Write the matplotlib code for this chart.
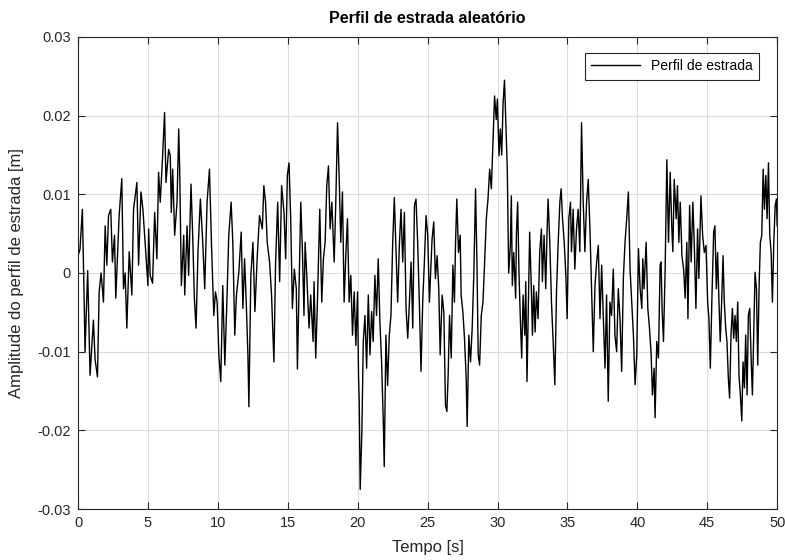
import matplotlib
matplotlib.use("Agg")
import matplotlib.pyplot as plt

plt.rcParams['font.family'] = ['Liberation Sans', 'DejaVu Sans']

t = [0.00, 0.14, 0.31, 0.45, 0.50, 0.69, 0.86, 1.10, 1.22, 1.39, 1.51, 1.65, 1.82, 1.94, 2.06, 2.18, 2.34, 2.46, 2.61, 2.70,
     2.94, 3.13, 3.25, 3.37, 3.49, 3.66, 3.85, 3.97, 4.21, 4.33, 4.50, 4.64, 4.81, 5.00,
     5.05, 5.16, 5.33, 5.48, 5.64, 5.76, 5.88, 6.05, 6.19, 6.29, 6.48, 6.60, 6.67, 6.77, 6.91, 7.08, 7.20, 7.27, 7.39, 7.56,
     7.63, 7.80, 7.91, 8.08, 8.20, 8.32, 8.44, 8.58, 8.75, 8.92, 9.06, 9.23, 9.40, 9.54, 9.71, 9.83, 9.95, 10.07,
     10.21, 10.35, 10.50, 10.66, 10.78, 10.95, 11.07, 11.21, 11.33, 11.50, 11.67, 11.79, 11.91, 12.03, 12.15, 12.22, 12.36,
     12.51, 12.65, 12.82, 12.98, 13.18, 13.29, 13.41, 13.53, 13.70, 13.84, 14.01, 14.13, 14.28, 14.42, 14.56, 14.73, 14.85,
     14.97, 15.09,
     15.21, 15.33, 15.47, 15.61, 15.69, 15.81, 15.93, 16.05, 16.16, 16.24, 16.36, 16.52, 16.64, 16.81, 16.88, 17.00, 17.12,
     17.29, 17.43, 17.55, 17.67, 17.79, 17.91, 18.03, 18.15, 18.32, 18.44, 18.56, 18.68, 18.79, 18.91, 19.03, 19.15, 19.27,
     19.39, 19.51, 19.63, 19.75, 19.87, 19.99, 20.06,
     20.11, 20.18, 20.30, 20.40, 20.52, 20.64, 20.76, 20.88, 21.00, 21.11, 21.23, 21.35, 21.47, 21.59, 21.71, 21.83, 21.90,
     22.02, 22.14, 22.26, 22.38, 22.50, 22.62, 22.74, 22.86, 22.98, 23.10, 23.22, 23.34, 23.46, 23.58, 23.70, 23.82, 23.94,
     24.06, 24.17, 24.29, 24.41, 24.53, 24.65, 24.77, 24.89, 25.01, 25.13,
     25.32, 25.44, 25.56, 25.68, 25.80, 25.90, 26.04, 26.16, 26.28, 26.38, 26.47, 26.57, 26.69, 26.81, 26.92, 27.00, 27.09,
     27.21, 27.33, 27.40, 27.52, 27.64, 27.76, 27.83, 27.95, 28.07, 28.19, 28.31, 28.43, 28.53, 28.62, 28.72, 28.84, 28.96,
     29.08, 29.20, 29.32, 29.44, 29.56, 29.67, 29.79, 29.91, 29.99, 30.11, 30.20, 30.30, 30.40, 30.50, 30.58,
     30.70, 30.80, 30.92, 30.99, 31.06, 31.16, 31.30, 31.35, 31.44, 31.54, 31.64, 31.73, 31.83, 31.95, 32.02, 32.11, 32.19,
     32.30, 32.42, 32.50, 32.59, 32.69, 32.78, 32.90, 33.02, 33.14, 33.21, 33.33, 33.45, 33.55, 33.62, 33.74, 33.86, 33.98,
     34.10, 34.22, 34.34, 34.46, 34.55, 34.65, 34.77, 34.89, 34.98, 35.10, 35.22,
     35.29, 35.41, 35.53, 35.65, 35.77, 35.89, 36.01, 36.13, 36.25, 36.37, 36.49, 36.61, 36.73, 36.85, 36.97, 37.09, 37.21,
     37.33, 37.45, 37.57, 37.69, 37.80, 37.92, 38.04, 38.16, 38.28, 38.40, 38.52, 38.64, 38.76, 38.88, 39.00, 39.12, 39.24,
     39.36, 39.48, 39.60, 39.72, 39.84, 39.96, 40.08, 40.20,
     40.32, 40.39, 40.48, 40.63, 40.75, 40.87, 40.99, 41.08, 41.20, 41.27, 41.39, 41.51, 41.63, 41.70, 41.77, 41.87, 41.99,
     42.11, 42.23, 42.35, 42.47, 42.54, 42.64, 42.78, 42.87, 42.97, 43.07, 43.19, 43.31, 43.42, 43.54, 43.62, 43.74, 43.85,
     43.97, 44.07, 44.19, 44.31, 44.40, 44.55, 44.67, 44.79, 44.91, 45.03, 45.12, 45.22,
     45.34, 45.46, 45.55, 45.65, 45.74, 45.84, 45.93, 46.03, 46.13, 46.22, 46.32, 46.41, 46.51, 46.60, 46.70, 46.80, 46.89,
     46.99, 47.08, 47.18, 47.27, 47.37, 47.47, 47.56, 47.66, 47.75, 47.85, 47.94, 48.04, 48.13, 48.23, 48.33, 48.42, 48.52,
     48.61, 48.71, 48.80, 48.90, 49.00, 49.09, 49.19, 49.28, 49.38, 49.47, 49.57, 49.66, 49.76, 49.86, 49.95, 50.00]

perfil = [0.0022, 0.0030, 0.0081, -0.0045, -0.0100, 0.0003, -0.0130, -0.0060, -0.0110, -0.0132, -0.0024, 0.0000, -0.0037, 0.0060, 0.0010, 0.0073, 0.0081, 0.0014, 0.0048, -0.0032,
          0.0073, 0.0120, -0.0020, 0.0000, -0.0070, 0.0027, -0.0028, 0.0081, 0.0115, 0.0010, 0.0103, 0.0081, 0.0035, -0.0016,
          0.0056, -0.0003, -0.0013, 0.0077, 0.0018, 0.0128, 0.0090, 0.0149, 0.0204, 0.0115, 0.0157, 0.0149, 0.0077, 0.0132, 0.0048, 0.0090, 0.0183, 0.0132, -0.0016, 0.0048,
          -0.0028, 0.0060, -0.0003, 0.0113, 0.0048, -0.0032, -0.0070, 0.0027, 0.0094, 0.0039, -0.0020, 0.0090, 0.0132, 0.0039, -0.0054, -0.0024, -0.0037, -0.0104,
          -0.0138, -0.0016, -0.0117, -0.0028, 0.0048, 0.0090, 0.0039, -0.0079, -0.0028, 0.0001, 0.0052, -0.0045, 0.0018, -0.0037, -0.0104, -0.0170, -0.0003,
          0.0039, -0.0049, 0.0022, 0.0073, 0.0056, 0.0111, 0.0090, 0.0039, 0.0014, -0.0028, -0.0113, 0.0014, 0.0090, -0.0011, 0.0111, 0.0077, 0.0018,
          0.0124, 0.0140,
          0.0069, -0.0045, 0.0005, -0.0020, -0.0122, -0.0016, 0.0090, 0.0027, -0.0054, 0.0039, -0.0003, -0.0070, -0.0028, -0.0087, -0.0011, -0.0108, -0.0037,
          0.0081, -0.0037, 0.0018, 0.0039, 0.0111, 0.0136, 0.0056, 0.0090, 0.0014, 0.0094, 0.0191, 0.0119, 0.0039, 0.0103, -0.0037, 0.0022, 0.0069,
          -0.0037, -0.0003, -0.0079, -0.0024, -0.0092, -0.0024, -0.0130,
          -0.0163, -0.0275, -0.0201, -0.0087, -0.0054, -0.0121, -0.0028, -0.0104, -0.0049, -0.0087, -0.0003, -0.0054, 0.0018, -0.0062, -0.0113, -0.0188, -0.0246,
          -0.0079, -0.0143, -0.0079, -0.0054, 0.0035, 0.0096, 0.0031, -0.0037, 0.0035, 0.0081, 0.0014, 0.0077, -0.0045, -0.0083, -0.0037, 0.0014, -0.0070,
          0.0086, 0.0094, 0.0039, -0.0037, -0.0125, -0.0037, 0.0014, 0.0073, 0.0048, -0.0037,
          0.0043, 0.0065, -0.0007, 0.0022, -0.0020, -0.0104, -0.0028, -0.0049, -0.0168, -0.0176, -0.0130, -0.0054, -0.0108, 0.0010, -0.0037, 0.0039, 0.0094,
          0.0026, 0.0048, -0.0028, -0.0049, -0.0083, -0.0134, -0.0195, -0.0079, -0.0113, -0.0070, 0.0001, 0.0107, 0.0014, -0.0104, -0.0117, -0.0054, -0.0037,
          0.0014, 0.0069, 0.0094, 0.0132, 0.0107, 0.0162, 0.0225, 0.0195, 0.0221, 0.0149, 0.0183, 0.0150, 0.0216, 0.0245, 0.0200,
          0.0132, 0.0000, 0.0035, 0.0098, -0.0016, 0.0026, -0.0032, 0.0048, 0.0090, -0.0003, -0.0062, -0.0108, -0.0028, -0.0079, -0.0011, -0.0138, -0.0058,
          0.0052, -0.0020, -0.0079, -0.0016, -0.0075, -0.0024, -0.0058, 0.0027, 0.0056, -0.0011, 0.0048, -0.0020, 0.0056, 0.0094, 0.0039, -0.0037, -0.0087,
          -0.0142, -0.0024, 0.0039, 0.0090, 0.0107, 0.0069, 0.0039, -0.0003, -0.0058, 0.0069, 0.0090,
          0.0027, 0.0081, 0.0005, 0.0056, 0.0081, 0.0027, 0.0191, 0.0090, 0.0027, 0.0090, 0.0119, 0.0056, -0.0020, -0.0100, -0.0016, 0.0014, 0.0035,
          -0.0058, 0.0010, -0.0058, -0.0121, -0.0028, -0.0163, -0.0037, -0.0054, 0.0005, -0.0079, -0.0100, -0.0020, -0.0058, -0.0125, -0.0007, 0.0039, 0.0069,
          0.0103, 0.0005, -0.0037, -0.0079, -0.0142, -0.0104, 0.0031, -0.0020,
          -0.0045, 0.0018, -0.0020, 0.0039, -0.0045, -0.0070, -0.0104, -0.0155, -0.0121, -0.0184, -0.0087, -0.0108, 0.0010, 0.0014, -0.0045, -0.0087, 0.0005,
          0.0144, 0.0039, 0.0128, 0.0056, 0.0027, 0.0119, 0.0069, 0.0111, 0.0039, 0.0090, 0.0022, 0.0005, -0.0032, 0.0039, -0.0058, 0.0086, 0.0014,
          0.0090, 0.0039, -0.0045, 0.0056, -0.0007, 0.0098, 0.0048, 0.0026, 0.0035, -0.0037, -0.0058, -0.0121,
          -0.0028, 0.0052, 0.0060, -0.0020, 0.0026, -0.0037, -0.0087, -0.0037, 0.0022, -0.0037, -0.0070, -0.0087, -0.0134, -0.0159, -0.0079, -0.0045, -0.0083,
          -0.0054, -0.0087, -0.0037, -0.0130, -0.0155, -0.0188, -0.0113, -0.0146, -0.0079, -0.0155, -0.0054, -0.0045, -0.0104, -0.0155, -0.0075, 0.0001, -0.0020,
          -0.0117, -0.0016, 0.0039, 0.0048, 0.0132, 0.0081, 0.0124, 0.0069, 0.0140, 0.0048, 0.0026, -0.0037, 0.0039, 0.0086, 0.0094, 0.0060]

xticks = [0, 5, 10, 15, 20, 25, 30, 35, 40, 45, 50]
yticks = [-0.03, -0.02, -0.01, 0, 0.01, 0.02, 0.03]
yticklabels = ['-0.03', '-0.02', '-0.01', '0', '0.01', '0.02', '0.03']

fig = plt.figure(figsize=(7.85, 5.6), dpi=100)
ax = fig.add_axes([0.0994, 0.091, 0.8906, 0.843])
ax.plot(t, perfil, color='black', linewidth=1.0, label='Perfil de estrada')
ax.set_xlim(0, 50)
ax.set_ylim(-0.03, 0.03)
ax.set_xticks(xticks)
ax.set_xticklabels([str(v) for v in xticks])
ax.set_yticks(yticks)
ax.set_yticklabels(yticklabels)
ax.grid(True, color='#dcdcdc', linewidth=0.8)
ax.set_axisbelow(True)
ax.tick_params(direction='in', top=True, right=True, labelsize=10.5, colors='#262626', length=5, pad=5)
for s in ax.spines.values():
    s.set_color('#262626')
    s.set_linewidth(0.8)
ax.set_xlabel('Tempo [s]', fontsize=12, color='#262626', labelpad=7)
ax.set_ylabel('Amplitude do perfil de estrada [m]', fontsize=12, color='#262626', labelpad=10)
ax.set_title('Perfil de estrada aleatório', fontsize=11.5, fontweight='bold', pad=10)
leg = ax.legend(loc='upper right', fontsize=10, fancybox=False, framealpha=1, edgecolor='#262626',
                bbox_to_anchor=(0.974, 0.966), borderaxespad=0, handlelength=3.5, borderpad=0.45)
leg.get_frame().set_linewidth(0.8)
fig.savefig('out.png', dpi=100)
